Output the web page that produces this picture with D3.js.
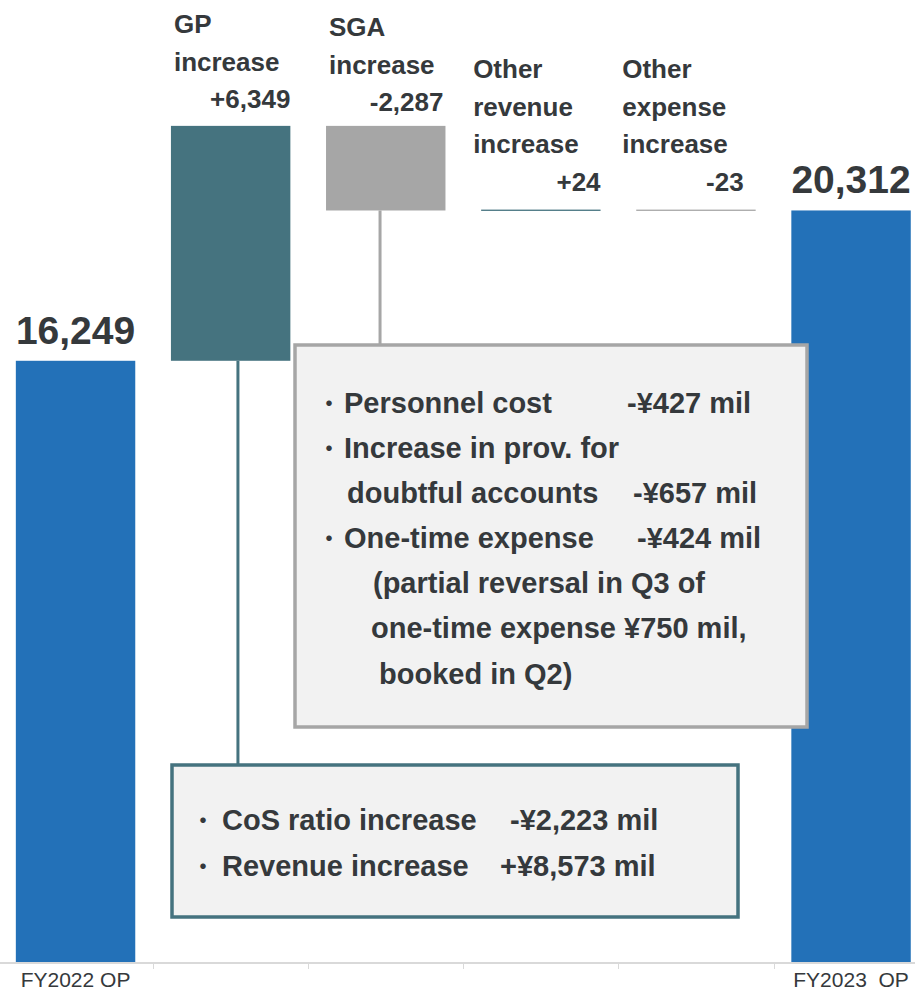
<!DOCTYPE html>
<html>
<head>
<meta charset="utf-8">
<script src="https://cdn.jsdelivr.net/npm/d3@7"></script>
<style>
  html, body { margin: 0; padding: 0; background: #ffffff; }
  svg { display: block; }
  text { font-family: "Liberation Sans", Arial, sans-serif; fill: #35393c; }
  .bullet { font-family: "Noto Sans CJK JP", sans-serif; }
</style>
</head>
<body>
<svg id="chart" width="915" height="993"></svg>
<script>
// ---------------- DATA ----------------
const categories = ["FY2022 OP", "GP increase", "SGA increase", "Other revenue increase", "Other expense increase", "FY2023 OP"];
const values = [16249, 6349, -2287, 24, -23, 20312];
const kinds = ["total", "delta", "delta", "delta", "delta", "total"];
const axisLabels = ["FY2022 OP", "", "", "", "", "FY2023  OP"];
const headerLines = [[], ["GP", "increase"], ["SGA", "increase"], ["Other", "revenue", "increase"], ["Other", "expense", "increase"], []];

const sgaNotes = [
  { bullet: true,  left: "Personnel cost", right: "-¥427 mil" },
  { bullet: true,  left: "Increase in prov. for", right: "" },
  { bullet: false, left: "doubtful accounts", right: "-¥657 mil" },
  { bullet: true,  left: "One-time expense", right: "-¥424 mil" },
  { bullet: false, left: "(partial reversal in Q3 of", right: "" },
  { bullet: false, left: "one-time expense ¥750 mil,", right: "" },
  { bullet: false, left: "booked in Q2)", right: "" }
];
const gpNotes = [
  { bullet: true, left: "CoS ratio increase", right: "-¥2,223 mil" },
  { bullet: true, left: "Revenue increase", right: "+¥8,573 mil" }
];

// ---------------- LAYOUT ----------------
const W = 915, H = 993;
const baseY = 962;
const colors = { total: "#2371b8", up: "#45737f", down: "#a6a6a6", axis: "#d9d9d9", boxFill: "#f2f2f2" };

const svg = d3.select("#chart");

const x = d3.scaleBand().domain(categories).range([-2, 928.6]).paddingInner(0.23).paddingOuter(0.115);
const y = d3.scaleLinear().domain([0, 26000]).range([baseY, 0]);

const fmtSigned = v => d3.format("+,")(v).replace("\u2212", "-");
const fmtPlain = v => d3.format(",")(v).replace("\u2212", "-");

// compute waterfall
let running = 0;
const bars = categories.map((c, i) => {
  let y0, y1;
  if (kinds[i] === "total") { y0 = 0; y1 = values[i]; running = values[i]; }
  else { y0 = running; y1 = running + values[i]; running = y1; }
  return { cat: c, v: values[i], kind: kinds[i], lo: Math.min(y0, y1), hi: Math.max(y0, y1) };
});

const fill = d => d.kind === "total" ? colors.total : (d.v >= 0 ? colors.up : colors.down);

// axis line + ticks
const step = x.step();
const [r0, r1] = x.range();
svg.append("line").attr("x1", 0).attr("x2", W).attr("y1", baseY + 1).attr("y2", baseY + 1)
  .attr("stroke", colors.axis).attr("stroke-width", 2);
for (let k = 1; k < categories.length; k++) {
  const tx = Math.round(r0 + k * step) + 0.5;
  svg.append("line").attr("x1", tx).attr("x2", tx).attr("y1", baseY + 1).attr("y2", baseY + 7)
    .attr("stroke", colors.axis).attr("stroke-width", 1);
}

// connector callouts (drawn before bars/boxes)
const gpBar = bars[1], sgaBar = bars[2];
const gpBox = { x: 172, y: 765, w: 566, h: 152 };
const sgaBox = { x: 295, y: 345, w: 512, h: 382 };

svg.append("line")
  .attr("x1", x(gpBar.cat) + 67).attr("x2", x(gpBar.cat) + 67)
  .attr("y1", y(gpBar.lo)).attr("y2", gpBox.y)
  .attr("stroke", colors.up).attr("stroke-width", 3);
svg.append("line")
  .attr("x1", x(sgaBar.cat) + 54).attr("x2", x(sgaBar.cat) + 54)
  .attr("y1", y(sgaBar.lo)).attr("y2", sgaBox.y)
  .attr("stroke", colors.down).attr("stroke-width", 3);

// bars
svg.append("g").selectAll("rect").data(bars).join("rect")
  .attr("x", d => x(d.cat))
  .attr("width", x.bandwidth())
  .attr("y", d => y(d.hi))
  .attr("height", d => Math.max(1.3, y(d.lo) - y(d.hi)))
  .attr("fill", fill);

// total value labels
svg.append("g").selectAll("text").data(bars.filter(d => d.kind === "total")).join("text")
  .attr("x", d => x(d.cat) + x.bandwidth() / 2)
  .attr("y", d => y(d.hi) - 17)
  .attr("text-anchor", "middle")
  .attr("font-size", 39).attr("font-weight", "bold")
  .text(d => fmtPlain(d.v));

// header labels for deltas
const headerPos = [null,
  { dx: 3, base: 33, rdx: 0 },
  { dx: 3, base: 36, rdx: -2 },
  { dx: -8, base: 78, rdx: 0 },
  { dx: -14, base: 78, rdx: -12 },
  null];
const lh = 37.5;
bars.forEach((d, i) => {
  const p = headerPos[i];
  if (!p) return;
  const g = svg.append("g");
  headerLines[i].forEach((t, j) => {
    g.append("text").attr("x", x(d.cat) + p.dx).attr("y", p.base + j * lh)
      .attr("font-size", 26).attr("font-weight", "bold").text(t);
  });
  g.append("text")
    .attr("x", x(d.cat) + x.bandwidth() + p.rdx)
    .attr("y", p.base + headerLines[i].length * lh)
    .attr("text-anchor", "end")
    .attr("font-size", 26).attr("font-weight", "bold")
    .text(fmtSigned(d.v));
});

// axis labels
svg.append("g").selectAll("text").data(categories).join("text")
  .attr("x", d => x(d) + x.bandwidth() / 2)
  .attr("y", 987)
  .attr("text-anchor", "middle")
  .attr("font-size", 21)
  .style("white-space", "pre")
  .attr("fill", "#404040")
  .text((d, i) => axisLabels[i]);

// annotation boxes
function drawBox(b, stroke) {
  svg.append("rect").attr("x", b.x).attr("y", b.y).attr("width", b.w).attr("height", b.h)
    .attr("fill", colors.boxFill).attr("stroke", stroke).attr("stroke-width", 3.5);
}
drawBox(sgaBox, colors.down);
drawBox(gpBox, colors.up);

const noteSize = 29;
function drawNotes(notes, pos) {
  notes.forEach((n, i) => {
    const p = pos[i];
    if (n.bullet) {
      svg.append("text").attr("class", "bullet").attr("x", p.bx).attr("y", p.y)
        .attr("text-anchor", "middle").attr("font-size", 26).text("・");
    }
    svg.append("text").attr("x", p.lx).attr("y", p.y)
      .attr("font-size", noteSize).attr("font-weight", "bold").text(n.left);
    if (n.right) {
      svg.append("text").attr("x", p.rx).attr("y", p.y)
        .attr("font-size", noteSize).attr("font-weight", "bold").text(n.right);
    }
  });
}
drawNotes(sgaNotes, [
  { bx: 329, lx: 344, rx: 627, y: 413 },
  { bx: 329, lx: 344, rx: 0, y: 458 },
  { bx: 329, lx: 347, rx: 633, y: 503 },
  { bx: 329, lx: 344, rx: 637, y: 548 },
  { bx: 329, lx: 373, rx: 0, y: 593 },
  { bx: 329, lx: 371, rx: 0, y: 638 },
  { bx: 329, lx: 379, rx: 0, y: 684 }
]);
drawNotes(gpNotes, [
  { bx: 203, lx: 222, rx: 510, y: 830 },
  { bx: 203, lx: 222, rx: 500, y: 876 }
]);
</script>
</body>
</html>
